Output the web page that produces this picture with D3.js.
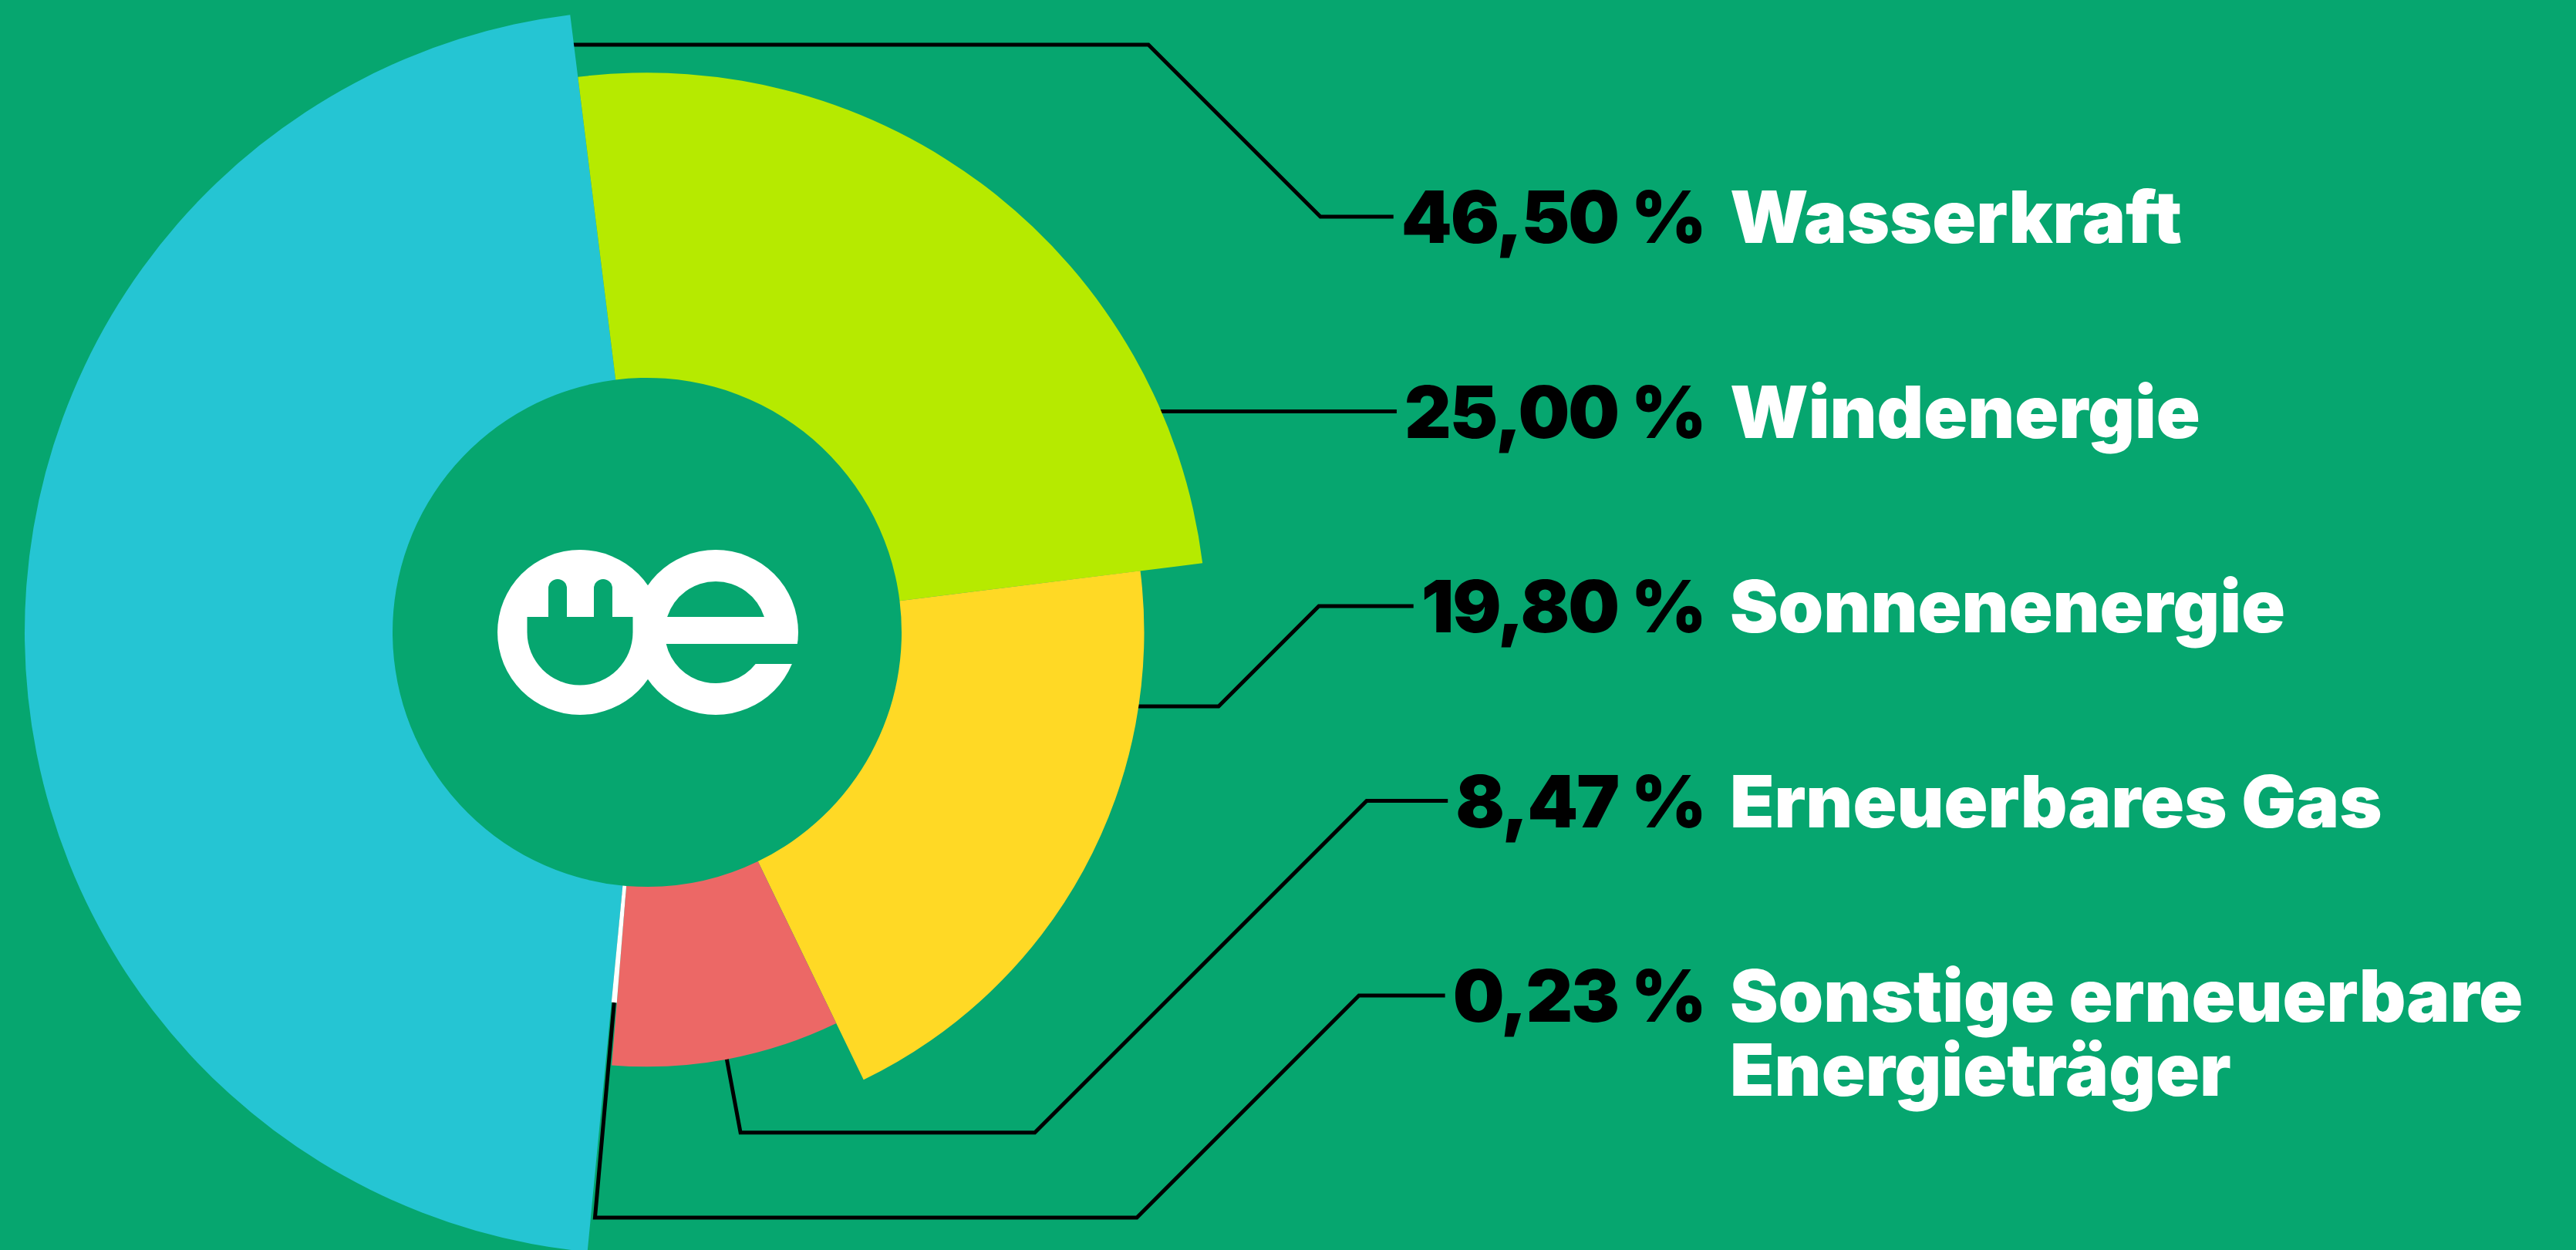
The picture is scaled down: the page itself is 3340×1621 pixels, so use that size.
<!DOCTYPE html>
<html>
<head>
<meta charset="utf-8">
<script src="https://cdn.jsdelivr.net/npm/d3@7"></script>
<style>
  html, body { margin: 0; padding: 0; background: #06a66f; overflow: hidden; }
  svg { display: block; }
  .pct { font-family: Inter, Lato, "Noto Sans", sans-serif; font-weight: 900; fill: #000; letter-spacing: -2px; }
  .cat { font-family: Inter, Lato, "Noto Sans", sans-serif; font-weight: 900; fill: #fff; }
</style>
</head>
<body>
<div id="chart"></div>
<script>
// Strommix: Anteile erneuerbarer Energieträger (in %)
const categories = ["Wasserkraft", "Windenergie", "Sonnenenergie", "Erneuerbares Gas", "Sonstige erneuerbare Energieträger"];
const shares = [46.50, 25.00, 19.80, 8.47, 0.23];

const BG = "#06a66f";
const color = d3.scaleOrdinal()
  .domain(categories)
  .range(["#25c5d3", "#b6ea00", "#ffd925", "#ec6866", "#ffffff"]);

const W = 3340, H = 1621;
const cx = 839, cy = 820;
const innerR = 330;
// boundary between Wasserkraft and Windenergie, degrees clockwise from 12 o'clock
const splitDeg = -7.1;

const rows = categories.map((c, i) => ({ cat: c, share: shares[i] }));

// radius steps by rank: smallest share -> shortest wedge
const order = d3.sort(d3.range(rows.length), i => rows[i].share);
rows.forEach((d, i) => { d.rank = order.indexOf(i); });
const rScale = d3.scaleLinear().domain([0, rows.length - 1]).range([482, 807]);

const rad = d => d * Math.PI / 180;
const a0 = rad(splitDeg) - 2 * Math.PI * rows[0].share / d3.sum(rows, d => d.share);
const pie = d3.pie().sort(null).value(d => d.share).startAngle(a0).endAngle(a0 + 2 * Math.PI);
const arcs = pie(rows);
const arc = d3.arc().innerRadius(innerR).outerRadius(d => rScale(d.data.rank));

const polar = (a, r) => [cx + r * Math.sin(a), cy - r * Math.cos(a)];

// label rows
const labelBase = d3.scalePoint().domain(categories).range([315, 1325]);
const fontSize = 94, capMid = 34, lineGap = 96;
const numRight = 2211, catLeft = 2243;
const fmt = d3.formatLocale({ decimal: ",", thousands: ".", grouping: [3], currency: ["", " €"] }).format(".2f");

// leader layout: "h" = horizontal run at y from a point inside the wedge,
// "radial" = out along the wedge's mid angle to radius r, then horizontal
const leaders = [
  { kind: "h", angle: -12, y: 58, diagX: 1712 },
  { kind: "h", angle: 60, y: null, diagX: 1600 },
  { kind: "h", angle: 100, y: 916, diagX: 1710 },
  { kind: "radial", r: 660, diagX: 1772 },
  { kind: "radial", r: 762, diagX: 1762 }
];

const svg = d3.select("#chart").append("svg")
  .attr("width", W).attr("height", H)
  .attr("viewBox", `0 0 ${W} ${H}`);
svg.append("rect").attr("width", W).attr("height", H).attr("fill", BG);

const gLines = svg.append("g");
const gPie = svg.append("g").attr("transform", `translate(${cx},${cy})`);
const gText = svg.append("g");

gPie.selectAll("path.slice").data(arcs).join("path")
  .attr("class", "slice")
  .attr("d", arc)
  .attr("fill", d => color(d.data.cat));

// text
const pctText = gText.selectAll("text.pct").data(rows).join("text")
  .attr("class", "pct")
  .attr("x", numRight)
  .attr("y", d => labelBase(d.cat))
  .attr("text-anchor", "end")
  .attr("font-size", fontSize)
  .text(d => fmt(d.share) + " %");

const maxW = W - catLeft - 20;
gText.selectAll("text.cat").data(rows).join("text")
  .attr("class", "cat")
  .attr("x", catLeft)
  .attr("y", d => labelBase(d.cat))
  .attr("font-size", fontSize)
  .each(function(d) {
    const t = d3.select(this);
    const words = d.cat.split(" ");
    let line = [];
    let tspan = t.append("tspan").attr("x", catLeft).attr("dy", 0);
    words.forEach(w => {
      line.push(w);
      tspan.text(line.join(" "));
      if (tspan.node().getComputedTextLength() > maxW && line.length > 1) {
        line.pop();
        tspan.text(line.join(" "));
        line = [w];
        tspan = t.append("tspan").attr("x", catLeft).attr("dy", lineGap).text(w);
      }
    });
  });

// leader lines
const line = d3.line();
rows.forEach((d, i) => {
  const L = leaders[i];
  const a = arcs[i];
  const labelY = labelBase(d.cat) - capMid;
  const textStart = pctText.nodes()[i].getBBox().x;
  let pts;
  if (L.kind === "radial") {
    const mid = (a.startAngle + a.endAngle) / 2;
    pts = [polar(mid, innerR + 10), polar(mid, L.r)];
  } else {
    const y = L.y == null ? labelY : L.y;
    const ang = rad(L.angle);
    const r = (cy - y) / Math.cos(ang);
    pts = [polar(ang, r)];
  }
  const elbow = pts[pts.length - 1];
  const dy = Math.abs(labelY - elbow[1]);
  if (dy > 0.5) {
    pts.push([L.diagX - dy, elbow[1]]);
    pts.push([L.diagX, labelY]);
  }
  pts.push([textStart - 10, labelY]);
  gLines.append("path")
    .attr("d", line(pts))
    .attr("fill", "none")
    .attr("stroke", "#000")
    .attr("stroke-width", 5)
    .attr("stroke-linejoin", "miter");
});

// logo in the hole
const logo = svg.append("g").attr("transform", `translate(${cx + 1},${cy})`);
logo.append("circle").attr("cx", -88).attr("cy", 0).attr("r", 107).attr("fill", "#fff");
logo.append("circle").attr("cx", 88).attr("cy", 0).attr("r", 107).attr("fill", "#fff");
const holes = [
  "M -156.5,-20 L -19.5,-20 L -19.5,0 A 68.5 68.5 0 0 1 -156.5,0 Z",
  "M -129,-20 L -129,-57 A 12 12 0 0 1 -105,-57 L -105,-20 Z",
  "M -70,-20 L -70,-57 A 12 12 0 0 1 -46,-57 L -46,-20 Z",
  "M 25.1,-20 A 66 66 0 0 1 150.9,-20 Z",
  "M 23.7,15 L 200,15 L 200,41 L 139.7,41 A 66 66 0 0 1 23.7,15 Z"
];
logo.selectAll("path.hole").data(holes).join("path")
  .attr("class", "hole").attr("d", d => d).attr("fill", BG);
</script>
</body>
</html>
